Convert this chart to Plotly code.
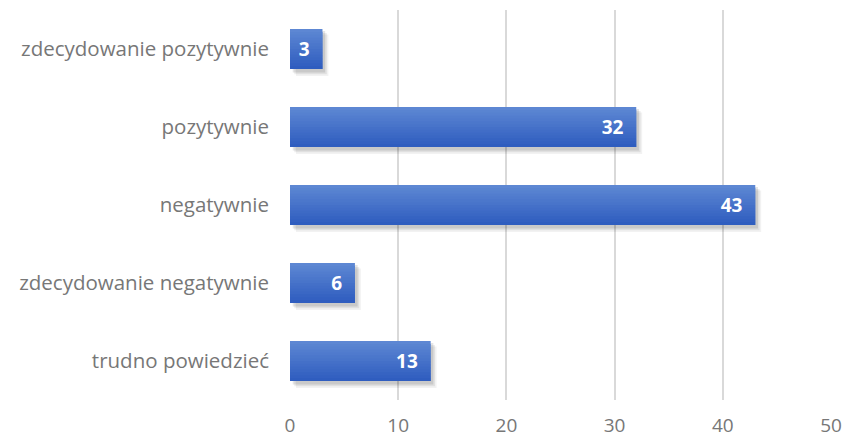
import plotly.graph_objects as go

categories = ["zdecydowanie pozytywnie", "pozytywnie", "negatywnie",
              "zdecydowanie negatywnie", "trudno powiedzieć"]
values = [3, 32, 43, 6, 13]
x_ticks = [0, 10, 20, 30, 40, 50]

pos = list(range(len(categories)))
bar_w = 0.51
font = "'Open Sans', sans-serif"
label_color = "#777777"

fig = go.Figure()

# soft drop shadow: translucent copies on x-axes shifted slightly right
# (axes x, x2, x3); the visible bars live on x4, drawn above them
shadow_layers = [(0.55, 0.08, 0.05), (0.4, 0.06, 0.07), (0.25, 0.035, 0.1)]
shadow_axes = ["x", "x2", "x3"]
for ax, (dx, dy, a) in zip(shadow_axes, shadow_layers):
    fig.add_trace(go.Bar(
        y=pos, x=values, orientation="h", width=bar_w + 0.02,
        offset=-bar_w / 2 + dy - 0.01,
        marker=dict(color=f"rgba(0,0,0,{a})", line=dict(width=0)),
        xaxis=ax, hoverinfo="skip", showlegend=False))

# vertical gradient inside each bar, built from overlapping bands
top = (0x5d, 0x87, 0xd3)
bot = (0x2f, 0x5d, 0xbf)
n = 14
band = bar_w / n
for k in range(n):
    t = k / (n - 1)
    c = tuple(round(top[j] + (bot[j] - top[j]) * t) for j in range(3))
    h = band * 2 if k < n - 1 else band
    fig.add_trace(go.Bar(
        y=pos, x=values, orientation="h",
        width=h, offset=-bar_w / 2 + k * band,
        marker=dict(color=f"rgb{c}", line=dict(width=0)),
        xaxis="x4", hoverinfo="skip", showlegend=False))

# value labels
fig.add_trace(go.Bar(
    y=pos, x=values, orientation="h", width=bar_w, offset=-bar_w / 2,
    marker=dict(color="rgba(0,0,0,0)", line=dict(width=0)),
    text=[f"{v}\u00a0\u00a0" for v in values], textposition="inside",
    insidetextanchor="end",
    textfont=dict(family=font, size=19, color="white", weight="bold"),
    xaxis="x4", hoverinfo="skip", showlegend=False))

hidden = dict(showgrid=False, zeroline=False, showline=False,
              showticklabels=False, ticks="", fixedrange=True)

fig.update_layout(
    barmode="overlay",
    width=844, height=439,
    margin=dict(l=290, r=13, t=10, b=39),
    paper_bgcolor="white", plot_bgcolor="white",
    xaxis=dict(range=[-shadow_layers[0][0], 50 - shadow_layers[0][0]],
               automargin=False, **hidden),
    xaxis2=dict(range=[-shadow_layers[1][0], 50 - shadow_layers[1][0]],
                overlaying="x", **hidden),
    xaxis3=dict(range=[-shadow_layers[2][0], 50 - shadow_layers[2][0]],
                overlaying="x", **hidden),
    xaxis4=dict(range=[0, 50], tickvals=x_ticks, overlaying="x",
                side="bottom", showgrid=True,
                gridcolor="#d9d9d9", gridwidth=1.5, zeroline=False,
                showline=False, ticks="", ticklabelstandoff=12,
                automargin=False,
                tickfont=dict(family=font, size=19, color=label_color)),
    yaxis=dict(tickvals=pos, ticktext=categories, range=[4.5, -0.5],
               showgrid=False, zeroline=False, showline=False, ticks="",
               ticklabelstandoff=20, automargin=False,
               tickfont=dict(family=font, size=20.5, color=label_color)),
    font=dict(family=font),
)

fig.write_html("out.html")
